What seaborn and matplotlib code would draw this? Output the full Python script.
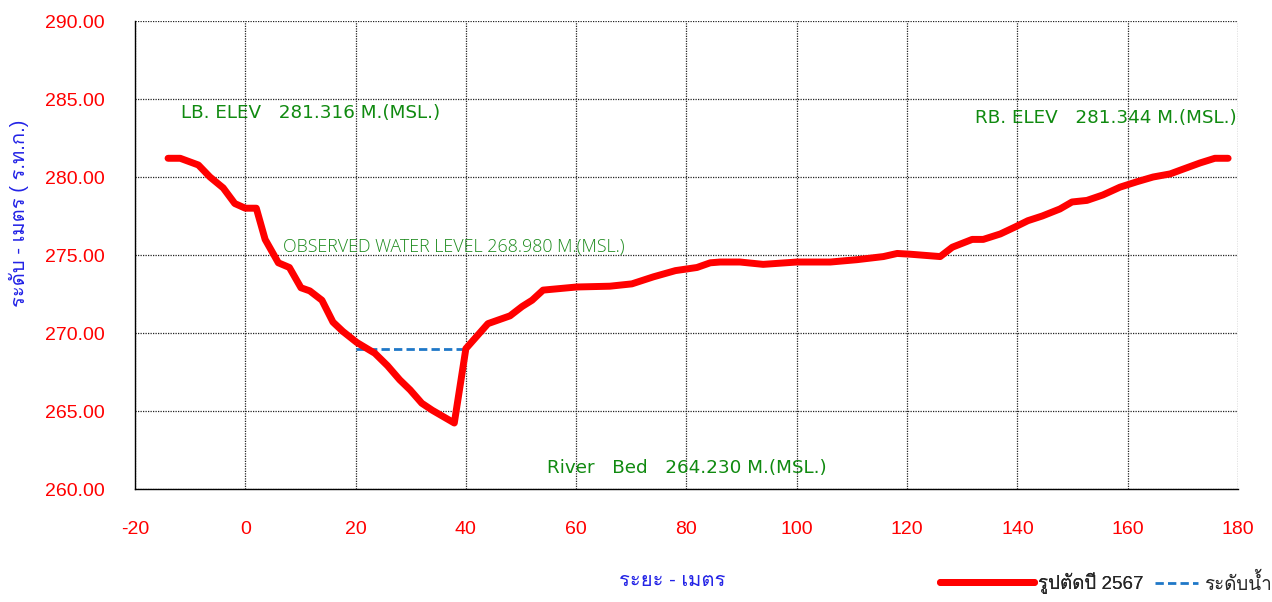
import numpy as np
import pandas as pd
import seaborn as sns
import matplotlib.pyplot as plt
from matplotlib import font_manager
from matplotlib.ft2font import FT2Font

# ---- data
dist = [-14.0, -11.8, -8.5, -6.4, -4.0, -1.9, 0.0, 2.0, 3.6, 6.0, 8.0, 10.1, 11.7,
        13.9, 15.9, 17.7, 20.2, 23.5, 25.8, 28.0, 29.9, 32.0, 33.9, 37.9, 40.0,
        42.0, 44.0, 48.0, 50.2, 52.0, 54.0, 60.1, 66.1, 70.1, 74.0, 78.0, 81.9,
        84.3, 86.1, 89.7, 93.9, 100.0, 106.1, 110.9, 115.7, 118.2, 120.6, 126.0,
        128.2, 131.8, 133.8, 136.9, 139.6, 141.9, 144.5, 147.7, 149.9, 152.6,
        155.5, 158.6, 161.7, 164.6, 167.7, 170.0, 173.1, 175.8, 178.2]
elev = [281.2, 281.2, 280.77, 280.0, 279.3, 278.3, 278.0, 278.0, 276.0, 274.5,
        274.2, 272.9, 272.7, 272.1, 270.7, 270.1, 269.4, 268.7, 267.9, 267.0,
        266.35, 265.5, 265.05, 264.23, 269.0, 269.8, 270.6, 271.1, 271.7, 272.1,
        272.75, 272.95, 273.0, 273.15, 273.6, 274.0, 274.2, 274.5, 274.55, 274.55,
        274.4, 274.55, 274.55, 274.7, 274.9, 275.1, 275.05, 274.9, 275.5, 276.0,
        276.0, 276.35, 276.8, 277.2, 277.5, 277.95, 278.4, 278.5, 278.85, 279.35,
        279.7, 280.0, 280.2, 280.5, 280.9, 281.2, 281.2]
water_x = [20.0, 40.0]
water_y = [268.98, 268.98]

section_label = "รูปตัดปี 2567"
water_label = "ระดับน้ำ"


def thai_font():
    # find an installed font that has Thai glyphs
    for f in font_manager.fontManager.ttflist:
        try:
            if 0x0E23 in FT2Font(f.fname).get_charmap():
                return f.name
        except Exception:
            pass
    return None


sns.set_style("white")
th = thai_font()
fams = ['Liberation Sans', 'DejaVu Sans']
if th:
    fams = ['Liberation Sans', th, 'DejaVu Sans']
plt.rcParams['font.family'] = fams
plt.rcParams['axes.unicode_minus'] = False

df = pd.DataFrame({'x': dist, 'y': elev})
dw = pd.DataFrame({'x': water_x, 'y': water_y})

fig = plt.figure(figsize=(12.72, 6.02), dpi=100)
ax = fig.add_axes([0.1061, 0.1877, 0.8672, 0.7774])

sns.lineplot(data=df, x='x', y='y', ax=ax, color='#ff0000', linewidth=5,
             sort=False, solid_capstyle='round', solid_joinstyle='round',
             zorder=3)
sns.lineplot(data=dw, x='x', y='y', ax=ax, color='#1f78c8', linewidth=2,
             linestyle=(0, (3, 1.5)), zorder=2)

ax.set_xlim(-20, 180)
ax.set_ylim(260, 290)
ax.set_xticks(np.arange(-20, 181, 20))
ax.set_yticks(np.arange(260, 291, 5))
ax.set_yticklabels([f"{v:.2f}" for v in np.arange(260, 291, 5)])
ax.tick_params(axis='both', colors='black', labelcolor='#ff0000', labelsize=14)
ax.tick_params(axis='x', direction='inout', length=8, pad=19)
ax.tick_params(axis='y', direction='out', length=5, pad=17)
for lab in ax.get_xticklabels() + ax.get_yticklabels():
    lab.set_family('Liberation Sans')
ax.grid(True, color='#222222', linestyle=(0, (1, 1)), linewidth=0.9)
for s in ['top', 'right']:
    ax.spines[s].set_visible(False)
for s in ['left', 'bottom']:
    ax.spines[s].set_color('black')
    ax.spines[s].set_linewidth(1)

ax.set_xlabel("ระยะ - เมตร", color='#2323e6', fontsize=14.5)
ax.xaxis.set_label_coords(0.487, -0.176)
ax.set_ylabel("ระดับ - เมตร ( ร.ท.ก.)", color='#2323e6', fontsize=14.5,
              fontweight='medium')
ax.yaxis.set_label_coords(-0.096, 0.59)

green = '#108a10'
ax.text(-11.7, 284.1, "LB. ELEV   281.316 M.(MSL.)", color=green, fontsize=13.2,
        family='DejaVu Sans', va='center', ha='left')
ax.text(179.8, 283.8, "RB. ELEV   281.344 M.(MSL.)", color=green, fontsize=13.2,
        family='DejaVu Sans', va='center', ha='right')
ax.text(6.8, 275.5, "OBSERVED WATER LEVEL 268.980 M.(MSL.)", color='#1c8a1c',
        fontsize=12.9, family=['Open Sans', 'DejaVu Sans'], va='center',
        ha='left', fontweight='light')
ax.text(80.1, 261.35, "River   Bed   264.230 M.(MSL.)", color=green,
        fontsize=13.2, family='DejaVu Sans', va='center', ha='center')

# two legends so each handle gets its own length, as in the reference
h1, = ax.plot([], [], color='#ff0000', linewidth=5, solid_capstyle='round')
h2, = ax.plot([], [], color='#1f78c8', linewidth=2, linestyle=(0, (3, 1.5)))
ly = 1 - 583 / 602
leg1 = fig.legend([h1], [section_label], loc='center left',
                  bbox_to_anchor=(940 / 1272, ly), frameon=False, fontsize=13.5,
                  handlelength=5.0, handletextpad=0.2, borderpad=0,
                  borderaxespad=0)
fig.legend([h2], [water_label], loc='center left',
           bbox_to_anchor=(1155 / 1272, ly), frameon=False, fontsize=13.5,
           handlelength=2.3, handletextpad=0.3, borderpad=0, borderaxespad=0)
fig.add_artist(leg1)

fig.savefig('out.png', dpi=100)
